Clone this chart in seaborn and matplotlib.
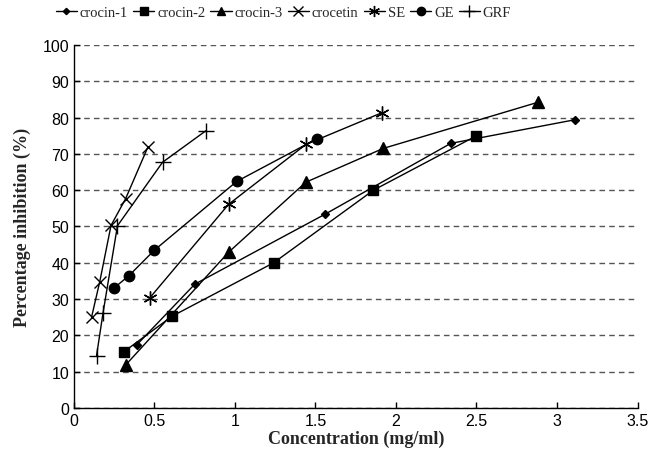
import matplotlib
matplotlib.use("Agg")
import matplotlib.pyplot as plt
import seaborn as sns
import pandas as pd

# Data
crocin1_x = [0.39, 0.75, 1.56, 2.34, 3.11]
crocin1_y = [17.4, 34.1, 53.4, 72.9, 79.4]
crocin2_x = [0.31, 0.61, 1.24, 1.86, 2.50]
crocin2_y = [15.5, 25.3, 40.0, 60.0, 75.0]
crocin3_x = [0.32, 0.96, 1.44, 1.92, 2.88]
crocin3_y = [11.8, 42.9, 62.2, 71.5, 84.2]
crocetin_x = [0.11, 0.16, 0.23, 0.32, 0.46]
crocetin_y = [25.2, 34.8, 50.3, 57.6, 72.0]
se_x = [0.47, 0.96, 1.44, 1.91]
se_y = [30.3, 56.1, 72.6, 81.3]
ge_x = [0.25, 0.34, 0.50, 1.01, 1.51]
ge_y = [33.1, 36.4, 43.5, 62.4, 74.2]
grf_x = [0.14, 0.18, 0.27, 0.55, 0.82]
grf_y = [14.4, 26.1, 50.2, 67.7, 76.4]

series_names = ["crocin-1", "crocin-2", "crocin-3", "crocetin", "SE", "GE", "GRF"]
series_x = [crocin1_x, crocin2_x, crocin3_x, crocetin_x, se_x, ge_x, grf_x]
series_y = [crocin1_y, crocin2_y, crocin3_y, crocetin_y, se_y, ge_y, grf_y]

x_ticks = [0, 0.5, 1, 1.5, 2, 2.5, 3, 3.5]
x_tick_labels = ["0", "0.5", "1", "1.5", "2", "2.5", "3", "3.5"]
y_ticks = list(range(0, 101, 10))

markers = ["D", "s", "^", "x", (6, 2, 0), "o", "+"]
msizes = [4, 7.5, 8, 9, 10, 7.5, 11]

sns.set_style("white")
fig = plt.figure(figsize=(6.56, 4.56), dpi=100)
ax = fig.add_axes([0.1128, 0.1031, 0.8590, 0.7960])

for name, xs, ys, mk, ms in zip(series_names, series_x, series_y, markers, msizes):
    df = pd.DataFrame({"x": xs, "y": ys})
    sns.lineplot(data=df, x="x", y="y", ax=ax, sort=False, color="black",
                 linewidth=1.0, marker=mk, markersize=ms,
                 markeredgecolor="black", markerfacecolor="black",
                 markeredgewidth=1.0, label=name, legend=False)

ax.set_xlim(0, 3.5)
ax.set_ylim(0, 100)
ax.set_xticks(x_ticks)
ax.set_xticklabels(x_tick_labels)
ax.set_yticks(y_ticks)
ax.yaxis.grid(True, linestyle=(0, (4, 3)), color="#555555", linewidth=1.0)
ax.xaxis.grid(False)
ax.set_axisbelow(True)
for s in ["top", "right"]:
    ax.spines[s].set_visible(False)
for s in ["left", "bottom"]:
    ax.spines[s].set_color("black")
    ax.spines[s].set_linewidth(1.0)
ax.tick_params(axis="both", direction="in", length=4, width=1, colors="black",
               labelsize=11.5, bottom=True, left=True)
for lab in ax.get_xticklabels() + ax.get_yticklabels():
    lab.set_family("Liberation Sans")

ax.set_xlabel("Concentration (mg/ml)", fontsize=13, fontweight="bold",
              family="Liberation Serif", labelpad=1)
ax.set_ylabel("Percentage inhibition (%)", fontsize=13, fontweight="bold",
              family="Liberation Serif", labelpad=8)

handles, labels = ax.get_legend_handles_labels()
fig.legend(handles, labels, loc="center", bbox_to_anchor=(0.432, 0.971), ncol=7,
           frameon=False, prop={"family": "Liberation Serif", "size": 10.5},
           handlelength=1.45, handletextpad=0.2, columnspacing=0.35,
           markerscale=0.8, borderaxespad=0, borderpad=0)

fig.savefig("out.png", dpi=100)
